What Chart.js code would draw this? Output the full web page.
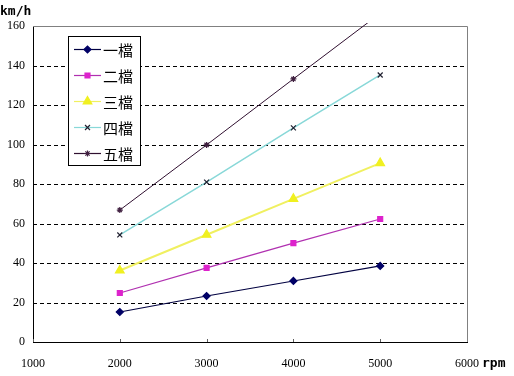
<!DOCTYPE html>
<html>
<head>
<meta charset="utf-8">
<script src="https://cdn.jsdelivr.net/npm/chart.js@4"></script>
<style>
  html, body { margin: 0; padding: 0; background: #fff; }
  #wrap { width: 514px; height: 376px; }
</style>
</head>
<body>
<div id="wrap"><canvas id="gearChart" width="514" height="376"></canvas></div>
<script>
const rpm = [2000, 3000, 4000, 5000];
const gearNames = ['一檔', '二檔', '三檔', '四檔', '五檔'];
const gear1 = [15.2, 23.3, 30.9, 38.5];
const gear2 = [24.8, 37.5, 50.1, 62.3];
const gear3 = [36.2, 54.3, 72.5, 90.6];
const gear4 = [54.2, 81.0, 108.4, 135.2];
const gear5 = [66.8, 99.8, 133.2, 166.4];
const yTicks = [0, 20, 40, 60, 80, 100, 120, 140, 160];
const xTicks = [1000, 2000, 3000, 4000, 5000, 6000];

const styles = [
    { line: '#000040', point: '#000066', shape: 'rectRot', radius: 3.5, width: 1.2 },
    { line: '#b030b0', point: '#dd22cc', shape: 'rect', radius: 3.5, width: 1.2 },
    { line: '#f0f060', point: '#f0f020', shape: 'triangle', radius: 5, width: 2 },
    { line: '#88d8d8', point: '#202030', shape: 'crossRot', radius: 3.5, width: 1.5 },
    { line: '#301030', point: '#402040', shape: 'star', radius: 3, width: 1 }
];

const series = [gear1, gear2, gear3, gear4, gear5];

const datasets = series.map(function(vals, i) {
    return {
        label: gearNames[i],
        data: vals.map(function(v, j) { return { x: rpm[j], y: v }; }),
        borderColor: styles[i].line,
        backgroundColor: styles[i].point,
        pointBorderColor: styles[i].point,
        pointBackgroundColor: styles[i].point,
        pointStyle: styles[i].shape,
        pointRadius: styles[i].radius,
        borderWidth: styles[i].width,
        pointBorderWidth: 1.2,
        tension: 0,
        clip: 3
    };
});

// dashed horizontal gridlines, x tick marks and plot frame
const frame = {
    id: 'frame',
    beforeDatasetsDraw: function(chart) {
        const a = chart.chartArea, c = chart.ctx, ys = chart.scales.y, xs = chart.scales.x;
        c.save();
        c.strokeStyle = '#000';
        c.lineWidth = 1;
        c.setLineDash([4, 3]);
        yTicks.forEach(function(v) {
            if (v === 0 || v === 160) return;
            const py = Math.round(ys.getPixelForValue(v)) + 0.5;
            c.beginPath();
            c.moveTo(a.left, py);
            c.lineTo(a.right, py);
            c.stroke();
        });
        c.setLineDash([]);
        c.strokeStyle = '#606060';
        xTicks.forEach(function(v) {
            const px = Math.round(xs.getPixelForValue(v)) + 0.5;
            c.beginPath();
            c.moveTo(px, a.bottom);
            c.lineTo(px, a.bottom - 3);
            c.stroke();
        });
        c.strokeStyle = '#808080';
        c.beginPath();
        c.moveTo(a.left, a.top + 0.5);
        c.lineTo(a.right + 0.5, a.top + 0.5);
        c.lineTo(a.right + 0.5, a.bottom);
        c.stroke();
        c.restore();
    }
};

// legend box and axis titles drawn inside the chart
const extras = {
    id: 'extras',
    afterDraw: function(chart) {
        const c = chart.ctx;
        c.save();
        const bx = 68.5, by = 36.5, bw = 72, bh = 129;
        c.fillStyle = '#fff';
        c.fillRect(bx, by, bw, bh);
        c.strokeStyle = '#000';
        c.lineWidth = 1;
        c.strokeRect(bx, by, bw, bh);
        chart.data.datasets.forEach(function(ds, i) {
            const yy = 49.5 + i * 26;
            c.strokeStyle = ds.borderColor;
            c.lineWidth = 1.2;
            c.beginPath();
            c.moveTo(74, yy);
            c.lineTo(101, yy);
            c.stroke();
            c.fillStyle = ds.pointBackgroundColor;
            c.strokeStyle = ds.pointBorderColor;
            Chart.helpers.drawPoint(c, {
                pointStyle: ds.pointStyle,
                radius: ds.pointRadius,
                borderWidth: 1.2,
                rotation: 0
            }, 87.5, yy);
            c.fillStyle = '#000';
            c.font = '15px "Noto Sans CJK TC"';
            c.textBaseline = 'middle';
            c.textAlign = 'left';
            c.fillText(ds.label, 103, yy + 1);
        });
        c.fillStyle = '#000';
        c.font = 'bold 13px "DejaVu Sans Mono"';
        c.textBaseline = 'middle';
        c.textAlign = 'left';
        c.fillText('km/h', 0, 12);
        c.fillText('rpm', 482, 364);
        c.restore();
    }
};

new Chart(document.getElementById('gearChart'), {
    type: 'line',
    data: { datasets: datasets },
    options: {
        responsive: false,
        animation: false,
        events: [],
        layout: { padding: { top: 26, right: 47, left: 0, bottom: 0 } },
        plugins: { legend: { display: false }, tooltip: { enabled: false } },
        scales: {
            x: {
                type: 'linear',
                min: 1000,
                max: 6000,
                afterFit: function(s) { s.height = 34; },
                afterBuildTicks: function(s) { s.ticks = xTicks.map(function(v) { return { value: v }; }); },
                grid: { display: false, drawTicks: false },
                border: { color: '#000', width: 1 },
                ticks: {
                    padding: 15,
                    color: '#000',
                    font: { family: 'Liberation Serif', size: 12 },
                    callback: function(value) { return String(value); }
                }
            },
            y: {
                min: 0,
                max: 160,
                afterFit: function(s) { s.width = 33; },
                afterBuildTicks: function(s) { s.ticks = yTicks.map(function(v) { return { value: v }; }); },
                grid: { display: false, drawTicks: false },
                border: { color: '#000', width: 1 },
                ticks: {
                    padding: 8,
                    color: '#000',
                    font: { family: 'Liberation Serif', size: 12 },
                    callback: function(value) { return String(value); }
                }
            }
        }
    },
    plugins: [frame, extras]
});
</script>
</body>
</html>
